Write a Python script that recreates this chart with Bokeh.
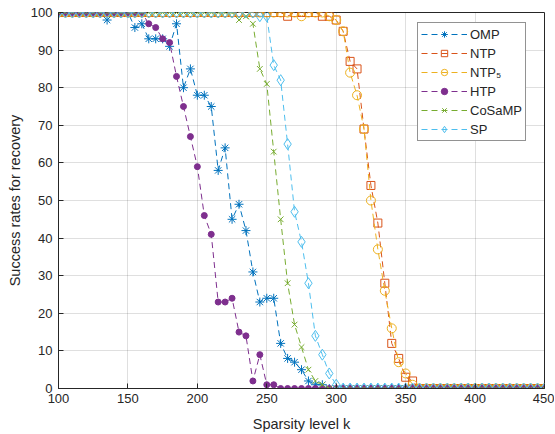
from bokeh.plotting import figure
from bokeh.models import Range1d, FixedTicker, Legend, LegendItem
from bokeh.embed import file_html
from bokeh.resources import INLINE

k = list(range(100, 455, 5))

omp = [100]*7 + [98, 100, 100, 100, 96, 97, 93, 93, 93, 91, 97, 80, 85, 78, 78, 75, 58, 64, 45, 49, 42, 31,
       23, 24, 24, 12, 8, 7, 5, 2, 1, 1] + [0]*32
ntp = [100]*33 + [99, 100, 100, 100, 100, 99, 99, 98, 95, 87, 85, 69, 54, 44, 28, 12, 8, 3, 2] + [0]*19
ntp5 = [100]*35 + [99, 100, 100, 100, 99, 98, 95, 84, 78, 69, 50, 37, 26, 16, 7, 4, 1] + [0]*19
htp = [100]*13 + [97, 96, 93, 92, 83, 75, 67, 59, 46, 41, 23, 23, 24, 15, 14, 2, 9, 1, 1] + [0]*39
cosamp = [100]*26 + [98, 99, 97, 85, 81, 63, 45, 28, 17, 11, 5, 2, 1] + [0]*32
sp = [100]*29 + [99, 99, 86, 82, 65, 47, 39, 28, 14, 9, 4, 1] + [0]*30

x_ticks = [100, 150, 200, 250, 300, 350, 400, 450]
y_ticks = list(range(0, 101, 10))

TXT = "#262626"
FONT = "Liberation Sans"

p = figure(frame_width=486, frame_height=376,
           x_range=Range1d(100, 450), y_range=Range1d(0, 100),
           output_backend="svg", toolbar_location=None,
           min_border_left=58, min_border_right=10, min_border_top=12, min_border_bottom=44,
           background_fill_color="white", border_fill_color="white")

p.outline_line_color = TXT
p.outline_line_width = 1
p.xaxis.ticker = FixedTicker(ticks=x_ticks)
p.yaxis.ticker = FixedTicker(ticks=y_ticks)
p.xaxis.minor_tick_line_color = None
p.yaxis.minor_tick_line_color = None
for ax in (p.xaxis, p.yaxis):
    ax.major_tick_in = 5
    ax.major_tick_out = 0
    ax.axis_line_color = TXT
    ax.major_tick_line_color = TXT
    ax.major_label_text_color = TXT
    ax.major_label_text_font = FONT
    ax.major_label_text_font_size = "13px"
    ax.axis_label_text_color = TXT
    ax.axis_label_text_font = FONT
    ax.axis_label_text_font_size = "14.5px"
    ax.axis_label_text_font_style = "normal"
p.xaxis.axis_label = "Sparsity level k"
p.yaxis.axis_label = "Success rates for recovery"
p.xaxis.major_label_standoff = 5
p.xaxis.axis_label_standoff = 10
p.yaxis.major_label_standoff = 6
p.yaxis.axis_label_standoff = 5

p.grid.grid_line_color = TXT
p.grid.grid_line_alpha = 0.15

series = [
    ("OMP", omp, "#0072BD", "asterisk", 9, False),
    ("NTP", ntp, "#D95319", "square", 8, False),
    ("NTP\u2085", ntp5, "#EDB120", "circle", 9, False),
    ("HTP", htp, "#7E2F8E", "circle", 6, True),
    ("CoSaMP", cosamp, "#77AC30", "x", 8, False),
    ("SP", sp, "#4DBEEE", "diamond", 11, False),
]

items = []
for name, vals, col, mk, sz, filled in series:
    lr = p.line(k, vals, line_color=col, line_width=1, line_dash="6 4")
    sr = p.scatter(k, vals, marker=mk, size=sz, line_color=col, line_width=1,
                   fill_color=col if filled else None)
    items.append(LegendItem(label=name, renderers=[lr, sr]))

legend = Legend(items=items, location=(359, 247))
legend.border_line_color = TXT
legend.border_line_width = 1
legend.background_fill_color = "white"
legend.background_fill_alpha = 1
legend.padding = 3
legend.margin = 0
legend.spacing = 3
legend.glyph_width = 46
legend.glyph_height = 16
legend.label_height = 16
legend.label_standoff = 3
legend.label_text_font = FONT
legend.label_text_font_size = "13px"
legend.label_text_color = TXT
p.add_layout(legend)

open("out.html", "w").write(file_html(p, INLINE))
